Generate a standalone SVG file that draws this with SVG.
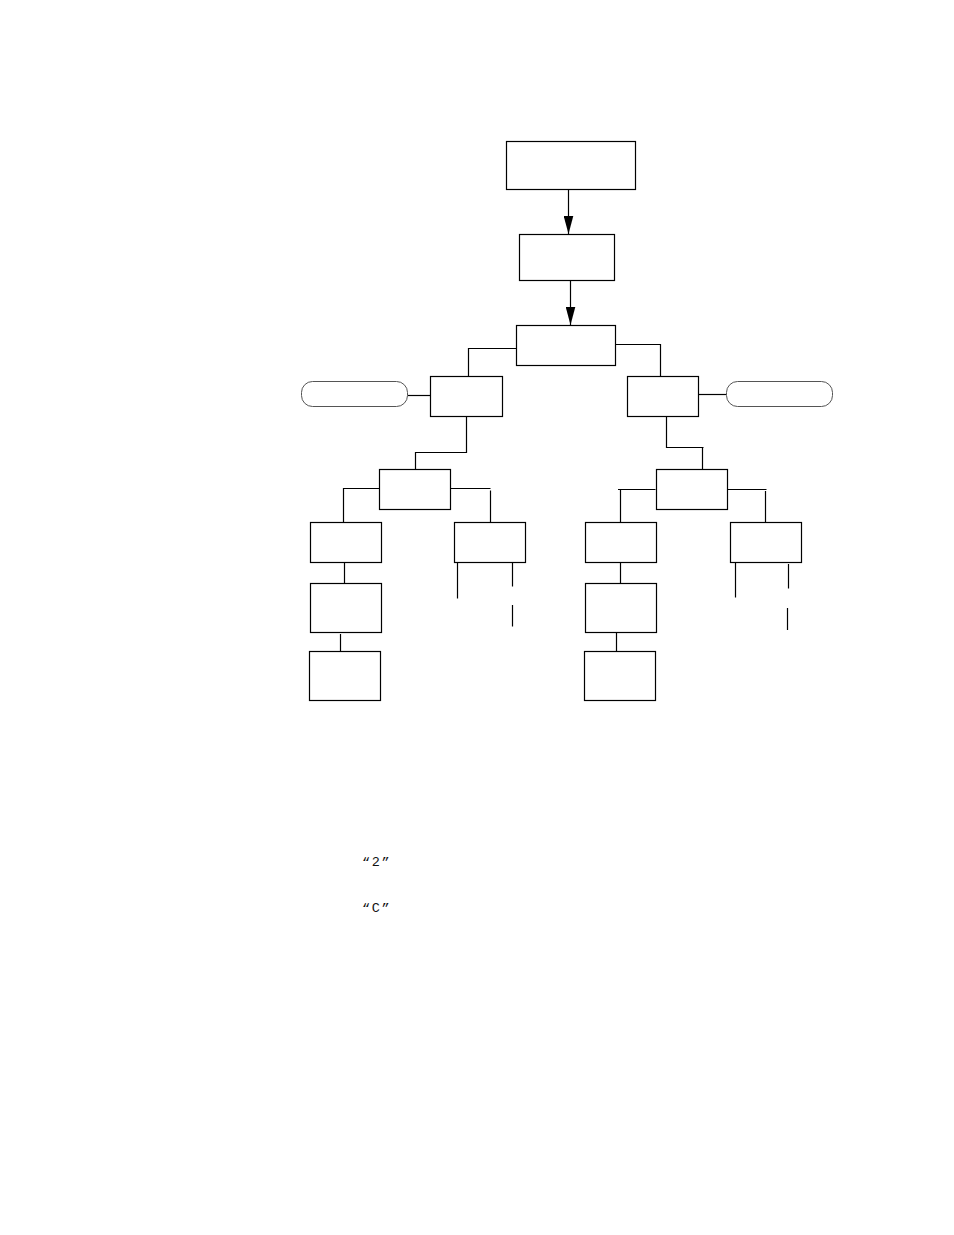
<svg xmlns="http://www.w3.org/2000/svg" width="954" height="1235" viewBox="0 0 954 1235">
  <style>
    .box { fill: #ffffff; stroke: #000000; stroke-width: 1.2; }
    .pill { fill: #ffffff; stroke: #555555; stroke-width: 1; }
    .conn { fill: none; stroke: #000000; stroke-width: 1.2; }
    .lbl { font-family: "Liberation Mono", "DejaVu Sans Mono", monospace; font-size: 13.5px; letter-spacing: 1.6px; fill: #111111; }
  </style>
  <defs>
    <marker id="arrow" viewBox="0 -5 18 10" markerWidth="18" markerHeight="10" refX="18" refY="0" orient="auto" markerUnits="userSpaceOnUse">
      <path d="M0,-4.8 L18,0 L0,4.8 z" fill="#000000"/>
    </marker>
  </defs>
  <rect width="954" height="1235" fill="#ffffff"/>

  <g id="connectors">
    <path class="conn" d="M568.5 189.5 V234" marker-end="url(#arrow)"/>
    <path class="conn" d="M570.5 280.5 V325" marker-end="url(#arrow)"/>
    <path class="conn" d="M516.5 348.5 H468.5 V376.5"/>
    <path class="conn" d="M615.5 344.5 H660.5 V376.5"/>
    <path class="conn" d="M407.5 395.5 H431"/>
    <path class="conn" d="M698.5 394.5 H726.5"/>
    <path class="conn" d="M466.5 416.5 V452.5 H415.5 V471"/>
    <path class="conn" d="M666.5 416.5 V447.5 H703.5"/>
    <path class="conn" d="M702.5 447.5 V469.5"/>
    <path class="conn" d="M379.5 488.5 H343.5 V522.5"/>
    <path class="conn" d="M450.5 488.5 H490.5"/>
    <path class="conn" d="M490.5 490.5 V523.5"/>
    <path class="conn" d="M655.5 489.5 H618"/>
    <path class="conn" d="M620.5 489.5 V522.5"/>
    <path class="conn" d="M727.5 489.5 H766.5"/>
    <path class="conn" d="M765.5 491 V523.5"/>
    <path class="conn" d="M344.5 562.5 V584.5"/>
    <path class="conn" d="M340.5 634 V653.5"/>
    <path class="conn" d="M620.5 562.5 V584.5"/>
    <path class="conn" d="M616.5 632.5 V653.5"/>
    <path class="conn" d="M457.5 562.5 V598.5"/>
    <path class="conn" d="M512.5 562.5 V586.5"/>
    <path class="conn" d="M512.5 605 V626.5"/>
    <path class="conn" d="M735.5 562.5 V597.5"/>
    <path class="conn" d="M788.5 564 V588.5"/>
    <path class="conn" d="M787.5 608 V630"/>
  </g>

  <g id="node-top"><rect class="box" x="506.5" y="141.5" width="129" height="48"/></g>
  <g id="node-2"><rect class="box" x="519.5" y="234.5" width="95" height="46"/></g>
  <g id="node-3"><rect class="box" x="516.5" y="325.5" width="99" height="40"/></g>
  <g id="node-L1"><rect class="box" x="430.5" y="376.5" width="72" height="40"/></g>
  <g id="node-R1"><rect class="box" x="627.5" y="376.5" width="71" height="40"/></g>
  <g id="node-pillL"><rect class="pill" x="301.5" y="381.5" width="106" height="25" rx="11" ry="11"/></g>
  <g id="node-pillR"><rect class="pill" x="726.5" y="381.5" width="106" height="25" rx="11" ry="11"/></g>
  <g id="node-L2"><rect class="box" x="379.5" y="469.5" width="71" height="40"/></g>
  <g id="node-R2"><rect class="box" x="656.5" y="469.5" width="71" height="40"/></g>
  <g id="node-LL"><rect class="box" x="310.5" y="522.5" width="71" height="40"/></g>
  <g id="node-LR"><rect class="box" x="454.5" y="522.5" width="71" height="40"/></g>
  <g id="node-LL2"><rect class="box" x="310.5" y="583.5" width="71" height="49"/></g>
  <g id="node-LL3"><rect class="box" x="309.5" y="651.5" width="71" height="49"/></g>
  <g id="node-RL"><rect class="box" x="585.5" y="522.5" width="71" height="40"/></g>
  <g id="node-RR"><rect class="box" x="730.5" y="522.5" width="71" height="40"/></g>
  <g id="node-RL2"><rect class="box" x="585.5" y="583.5" width="71" height="49"/></g>
  <g id="node-RL3"><rect class="box" x="584.5" y="651.5" width="71" height="49"/></g>

  <g id="texts">
    <text class="lbl" x="362" y="866">“2”</text>
    <text class="lbl" x="362" y="912">“C”</text>
  </g>
</svg>
